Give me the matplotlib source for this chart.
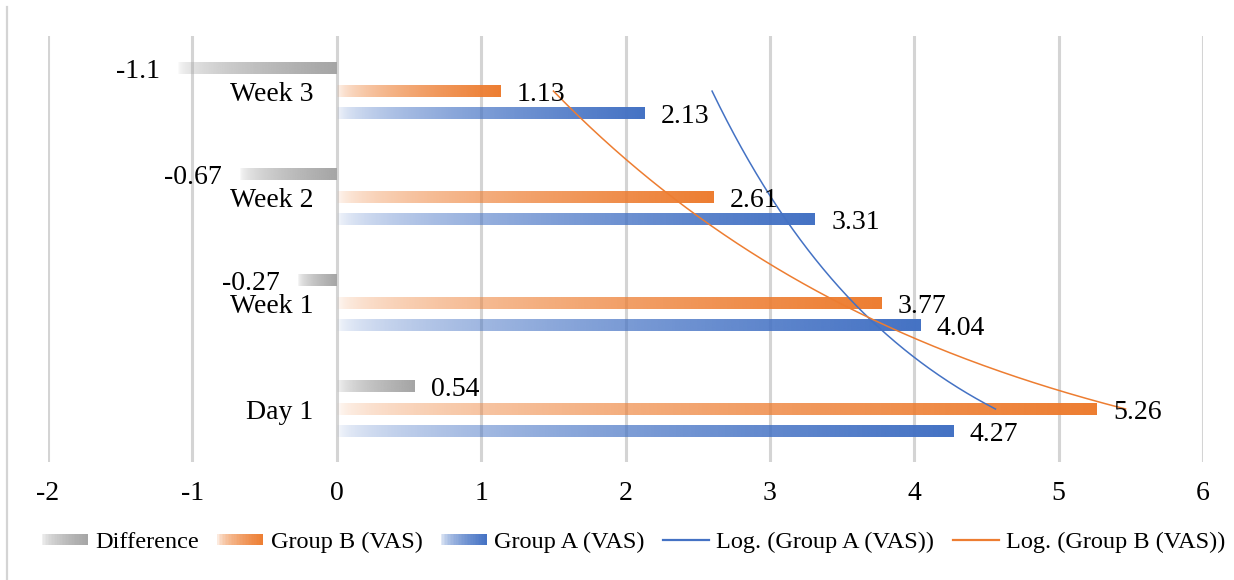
import numpy as np
import matplotlib
matplotlib.use("Agg")
import matplotlib.pyplot as plt
from matplotlib.patches import Rectangle
from matplotlib.lines import Line2D
from matplotlib.legend_handler import HandlerBase
from matplotlib.colors import to_rgb

# VAS scores per time point
categories = ["Day 1", "Week 1", "Week 2", "Week 3"]
group_a = [4.27, 4.04, 3.31, 2.13]
group_b = [5.26, 3.77, 2.61, 1.13]
difference = [0.54, -0.27, -0.67, -1.1]
x_ticks = [-2, -1, 0, 1, 2, 3, 4, 5, 6]

GRAY = "#A5A5A5"
ORANGE = "#ED7D31"
BLUE = "#4472C4"
GRID = "#D4D4D4"

plt.rcParams["font.family"] = ["Liberation Serif", "DejaVu Serif"]
plt.rcParams["axes.unicode_minus"] = False

W, H = 1234, 580
fig = plt.figure(figsize=(W / 100, H / 100), dpi=100)
ax = fig.add_axes([48 / W, 1 - 462 / H, (1203 - 48) / W, (462 - 36) / H])


def alpha_ramp(t):
    return 0.03 + 0.97 * np.sqrt(t)


def ramp_image(color, n=256):
    img = np.zeros((1, n, 4))
    img[..., :3] = to_rgb(color)
    img[..., 3] = alpha_ramp(np.linspace(0, 1, n))
    return img


def gradient_bar(y, value, color, height=0.11):
    x0, x1 = sorted((0.0, value))
    ax.imshow(ramp_image(color), extent=(x0, x1, y - height / 2, y + height / 2),
              aspect="auto", interpolation="bilinear", zorder=2)


def value_label(y, value):
    if value >= 0:
        ax.annotate(f"{value:g}", (value, y), xytext=(12, 0), textcoords="offset points",
                    ha="left", va="center_baseline", fontsize=20, zorder=4)
    else:
        ax.annotate(f"{value:g}", (value, y), xytext=(-13, 0), textcoords="offset points",
                    ha="right", va="center_baseline", fontsize=20, zorder=4)


offset = 0.212
for i, cat in enumerate(categories):
    gradient_bar(i + offset, difference[i], GRAY)
    gradient_bar(i, group_b[i], ORANGE)
    gradient_bar(i - offset, group_a[i], BLUE)
    value_label(i + offset, difference[i])
    value_label(i, group_b[i])
    value_label(i - offset, group_a[i])
    ax.annotate(cat, (0, i), xytext=(-17, 0), textcoords="offset points",
                ha="right", va="center_baseline", fontsize=20, zorder=4)

# Logarithmic trendlines over the category index
k = np.arange(1, len(categories) + 1)
kk = np.linspace(1, len(categories), 300)
for vals, color in ((group_a, BLUE), (group_b, ORANGE)):
    slope, intercept = np.polyfit(np.log(k), vals, 1)
    ax.plot(slope * np.log(kk) + intercept, kk - 1, color=color, lw=1.1, zorder=3)

ax.set_xlim(-2, 6)
ax.set_ylim(-0.5, 3.52)
ax.set_xticks(x_ticks)
ax.set_xticklabels([str(v) for v in x_ticks], fontsize=20)
ax.set_yticks([])
ax.tick_params(axis="x", length=0, pad=14)
ax.grid(axis="x", color=GRID, linewidth=2.2)
ax.set_axisbelow(True)
for s in ax.spines.values():
    s.set_visible(False)


class GradientHandler(HandlerBase):
    def __init__(self, color, n=30):
        super().__init__()
        self.color = color
        self.n = n

    def create_artists(self, legend, orig_handle, xdescent, ydescent,
                       width, height, fontsize, trans):
        rgb = to_rgb(self.color)
        h = height * 0.6
        y0 = -ydescent + (height - h) / 2
        arts = []
        for j in range(self.n):
            t = (j + 0.5) / self.n
            arts.append(Rectangle((-xdescent + width * j / self.n, y0), width / self.n, h,
                                  facecolor=rgb, alpha=alpha_ramp(t), edgecolor="none",
                                  antialiased=False, transform=trans))
        return arts


h_diff = Rectangle((0, 0), 1, 1)
h_b = Rectangle((0, 0), 1, 1)
h_a = Rectangle((0, 0), 1, 1)
h_la = Line2D([], [], color=BLUE, lw=1.6)
h_lb = Line2D([], [], color=ORANGE, lw=1.6)
fig.legend([h_diff, h_b, h_a, h_la, h_lb],
           ["Difference", "Group B (VAS)", "Group A (VAS)",
            "Log. (Group A (VAS))", "Log. (Group B (VAS))"],
           handler_map={h_diff: GradientHandler(GRAY), h_b: GradientHandler(ORANGE),
                        h_a: GradientHandler(BLUE)},
           loc="center", bbox_to_anchor=(633.5 / W, 1 - 542 / H), ncol=5,
           frameon=False, fontsize=17.5, handlelength=1.9, handletextpad=0.3,
           columnspacing=0.75, borderpad=0, borderaxespad=0)

# chart-area edge on the left
fig.add_artist(Line2D([7 / W, 7 / W], [0, 1 - 7 / H], transform=fig.transFigure,
                      color=GRID, lw=1.6))

fig.savefig("out.png", dpi=100, facecolor="white")
